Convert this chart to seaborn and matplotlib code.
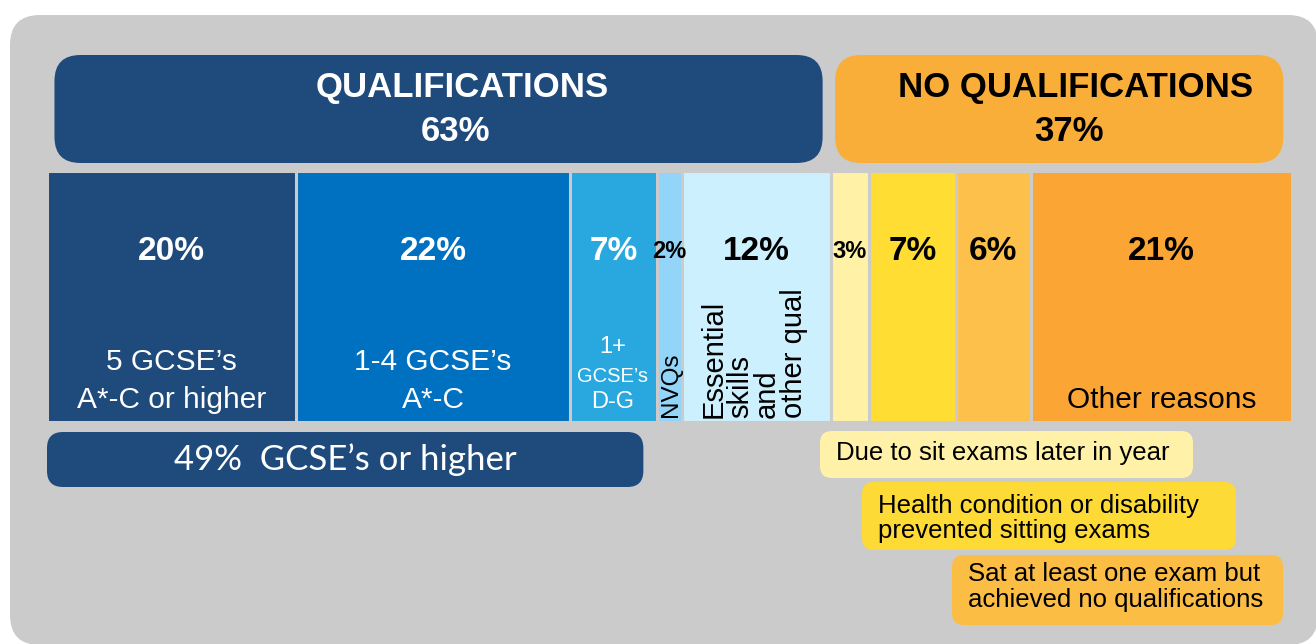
import matplotlib
matplotlib.use("Agg")
import matplotlib.pyplot as plt
import seaborn as sns
import pandas as pd
from matplotlib.patches import FancyBboxPatch
from matplotlib.transforms import blended_transform_factory

# ---------------- data ----------------
segment_values = [20, 22, 7, 2, 12, 3, 7, 6, 21]
segment_labels = ["20%", "22%", "7%", "2%", "12%", "3%", "7%", "6%", "21%"]
qual_total = 63
noqual_total = 37
gcse_total = 49
header_titles = ["QUALIFICATIONS", "NO QUALIFICATIONS"]
header_values = ["63%", "37%"]
gcse_label = "49%  GCSE\u2019s or higher"
callout_texts = ["Due to sit exams later in year",
                 "Health condition or disability\nprevented sitting exams",
                 "Sat at least one exam but\nachieved no qualifications"]

# ---------------- styles ----------------
GRAY = "#cbcbcb"
NAVY = "#1f4a7c"
ORANGE_HDR = "#f9ae3a"
seg_colors = ["#1f4a7c", "#0070c0", "#29a8e0", "#92d5f8", "#ccf0fd",
              "#fff1a6", "#ffdd33", "#fdc04a", "#fba535"]
label_colors = ["white", "white", "white", "black", "black",
                "black", "black", "black", "black"]
callout_colors = ["#fff2a8", "#fdda35", "#fcbd45"]

sns.set_theme(style="white")
plt.rcParams['font.family'] = ['Liberation Sans', 'DejaVu Sans']

W, H = 1316, 644
fig = plt.figure(figsize=(W / 100, H / 100), dpi=100)
fig.patch.set_facecolor("white")

# layout axes in pixel coordinates
lay = fig.add_axes([0, 0, 1, 1], zorder=0)
lay.set_xlim(0, W)
lay.set_ylim(H, 0)
lay.axis("off")
lay.add_patch(FancyBboxPatch((10, 15), 1308, H - 14, boxstyle="round,pad=0,rounding_size=30",
                             fc=GRAY, ec="none"))

# bar axes: x in percent
BL, BR, BT, BB = 47, 1292, 171, 422
axb = fig.add_axes([BL / W, 1 - BB / H, (BR - BL) / W, (BB - BT) / H], zorder=1)
df = pd.DataFrame({"label": segment_labels, "value": segment_values})
df["cum"] = df["value"].cumsum()
df["start"] = df["cum"] - df["value"]
df["mid"] = df["start"] + df["value"] / 2

for i in reversed(range(len(df))):
    sns.barplot(x=[df["cum"][i]], y=["all"], orient="h", color=seg_colors[i],
                saturation=1, width=1, edgecolor=GRAY, linewidth=2.2,
                errorbar=None, ax=axb)
axb.set_xlim(0, 100)
axb.set_ylim(0.5, -0.5)
axb.axis("off")

S = (BR - BL) / 100.0  # px per percent
tr = blended_transform_factory(axb.transData, lay.transData)

def rbox(x0, x1, y0, y1, color, r_px):
    axb.add_patch(FancyBboxPatch((x0, y0), x1 - x0, y1 - y0,
                                 boxstyle=f"round,pad=0,rounding_size={r_px / S}",
                                 mutation_aspect=S, fc=color, ec="none",
                                 transform=tr, clip_on=False))

# header boxes
rbox(0.6, qual_total - 0.7, 55, 163, NAVY, 26)
rbox(qual_total + 0.3, qual_total + noqual_total - 0.7, 55, 163, ORANGE_HDR, 26)
hdr_mid = [qual_total / 2 + 1.85, qual_total + noqual_total / 2 + 1.1]
hdr_col = ["white", "black"]
for k in range(2):
    axb.text(hdr_mid[k], 87, header_titles[k], transform=tr, ha="center", va="center",
             fontsize=25, fontweight="bold", color=hdr_col[k], clip_on=False)
    axb.text(hdr_mid[k] - 0.5, 131, header_values[k], transform=tr, ha="center", va="center",
             fontsize=25, fontweight="bold", color=hdr_col[k], clip_on=False)

# percent labels
for i, row in df.iterrows():
    small = row["value"] <= 3
    axb.text(row["mid"], 251, row["label"], transform=tr, ha="center", va="center",
             fontsize=17 if small else 24, fontweight="bold", color=label_colors[i],
             family=['Liberation Sans Narrow', 'Liberation Sans'], clip_on=False)

# sub labels
m = df["mid"].tolist()
def t(x, y, s, size, color, **kw):
    axb.text(x, y, s, transform=tr, ha="center", va="center", fontsize=size,
             color=color, clip_on=False, **kw)

t(m[0], 362, "5 GCSE\u2019s", 21.5, "white")
t(m[0], 400, "A*-C or higher", 21.5, "white")
t(m[1], 362, "1-4 GCSE\u2019s", 21.5, "white")
t(m[1], 400, "A*-C", 21.5, "white")
t(m[2] - 0.1, 347, "1+", 17, "white")
t(m[2] - 0.1, 376, "GCSE\u2019s", 14.5, "white")
t(m[2] - 0.1, 402, "D-G", 17, "white")
axb.text(m[3] + 0.1, 417, "NVQs", transform=tr, ha="center", va="bottom", rotation=90,
         fontsize=17.5, color="black", clip_on=False)
ess_lines = ["Essential", "skills", "and", "other qual"]
ess_x = [-3.45, -1.3, 0.85, 3.0]
for j, line in enumerate(ess_lines):
    axb.text(m[4] + ess_x[j], 418, line, transform=tr, ha="center", va="bottom",
             rotation=90, fontsize=21, color="black", clip_on=False)
t(m[8], 400, "Other reasons", 21.5, "black")

# GCSE summary box
rbox(0, gcse_total - 1.1, 432, 487, NAVY, 16)
axb.text((gcse_total - 1.1) / 2, 460, gcse_label, transform=tr, ha="center", va="center",
         fontsize=25, color="white", family=['Lato', 'Liberation Sans'], clip_on=False)

# callouts (pixel layout)
cboxes = [(820, 1193, 431, 478), (862, 1236, 482, 550), (952, 1283, 555, 625)]
clines_y = [[453], [506, 531], [574, 600]]
for k, (x0, x1, y0, y1) in enumerate(cboxes):
    lay.add_patch(FancyBboxPatch((x0, y0), x1 - x0, y1 - y0,
                                 boxstyle="round,pad=0,rounding_size=12",
                                 fc=callout_colors[k], ec="none"))
    for ln, yy in zip(callout_texts[k].split("\n"), clines_y[k]):
        lay.text(x0 + 16, yy, ln, ha="left", va="center", fontsize=18.5, color="black")

fig.savefig("out.png", dpi=100, facecolor="white")
